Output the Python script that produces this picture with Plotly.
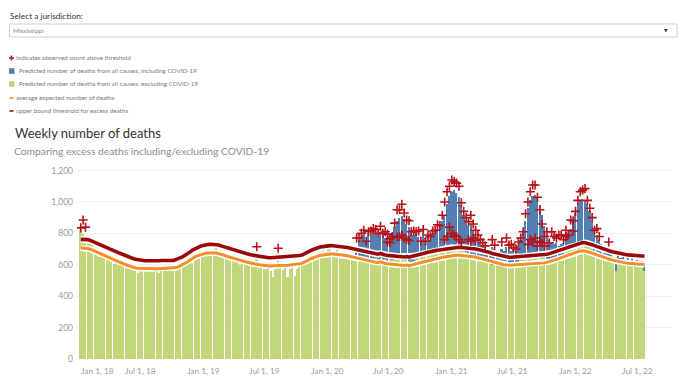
import pandas as pd
import plotly.graph_objects as go

# ---------------- data ----------------
start_week = "2018-01-06"          # first week-ending date
covid_start_index = 115            # first week of the "including COVID-19" series

upper_threshold = [
    762, 762, 761, 760, 755, 748, 740, 733, 727, 720,
    715, 710, 703, 697, 690, 683, 676, 670, 663, 657,
    650, 645, 640, 635, 632, 629, 627, 626, 626, 625,
    626, 626, 625, 626, 627, 626, 627, 628, 627, 628,
    632, 638, 645, 652, 660, 670, 682, 694, 703, 710,
    716, 721, 725, 728, 730, 731, 731, 729, 726, 720,
    715, 710, 705, 700, 695, 690, 686, 682, 678, 673,
    669, 665, 662, 659, 656, 653, 651, 649, 647, 645,
    645, 646, 646, 648, 648, 649, 650, 650, 651, 652,
    654, 656, 659, 662, 668, 676, 685, 693, 700, 705,
    710, 714, 717, 720, 722, 722, 721, 720, 718, 716,
    715, 713, 710, 707, 704, 701, 698, 695, 692, 690,
    684, 680, 676, 672, 670, 667, 672, 665, 662, 660,
    658, 660, 656, 653, 652, 651, 650, 652, 648, 652,
    655, 660, 664, 668, 672, 676, 681, 685, 688, 690,
    692, 694, 697, 700, 703, 706, 708, 710, 711, 711,
    710, 709, 708, 706, 705, 703, 700, 697, 694, 690,
    686, 682, 678, 672, 668, 664, 660, 656, 652, 649,
    648, 648, 649, 650, 651, 652, 652, 653, 654, 655,
    656, 657, 658, 660, 662, 664, 667, 671, 676, 681,
    685, 690, 695, 701, 707, 713, 720, 726, 731, 736,
    740, 741, 740, 737, 733, 728, 722, 716, 710, 703,
    697, 693, 689, 685, 681, 677, 673, 670, 667, 665,
    663, 661, 660, 659, 658, 657, 656, 655,
]

average_expected = [
    706, 706, 705, 704, 699, 692, 685, 678, 672, 666,
    661, 655, 648, 641, 634, 627, 620, 613, 606, 600,
    594, 589, 584, 580, 578, 577, 576, 575, 575, 574,
    575, 575, 574, 575, 576, 575, 576, 577, 576, 578,
    582, 587, 594, 601, 609, 619, 630, 641, 650, 657,
    663, 668, 671, 674, 676, 677, 677, 675, 672, 667,
    662, 656, 651, 646, 641, 636, 632, 628, 624, 620,
    616, 612, 609, 606, 603, 600, 598, 596, 594, 593,
    592, 593, 593, 594, 595, 596, 597, 597, 598, 599,
    601, 603, 606, 609, 615, 623, 632, 640, 647, 652,
    657, 661, 664, 667, 669, 669, 668, 667, 665, 663,
    662, 660, 657, 654, 651, 648, 644, 641, 637, 634,
    630, 627, 623, 619, 616, 613, 618, 611, 608, 606,
    604, 606, 602, 599, 598, 597, 596, 598, 594, 598,
    601, 606, 610, 614, 618, 622, 627, 631, 635, 638,
    641, 644, 647, 650, 653, 656, 658, 660, 661, 661,
    660, 659, 657, 655, 653, 651, 648, 645, 641, 637,
    633, 629, 625, 620, 615, 611, 607, 603, 600, 598,
    597, 597, 598, 599, 600, 600, 601, 601, 602, 603,
    604, 605, 606, 608, 610, 612, 615, 619, 624, 629,
    634, 639, 645, 651, 657, 663, 669, 675, 680, 684,
    687, 688, 687, 684, 680, 675, 669, 663, 657, 651,
    645, 640, 636, 632, 628, 624, 620, 617, 614, 612,
    610, 608, 607, 606, 605, 604, 603, 602,
]

deaths_excluding_covid = [
    820, 795, 780,
    760, 745, 730, 700, 690, 650, 665, 640, 655, 635,
    620, 605, 630, 600, 615, 595, 590, 605, 585, 575,
    560, 545, 575, 570, 565, 560, 570, 555, 560, 565, 550, 575, 560,
    570, 565, 580, 560, 575, 585, 580, 595, 600, 605,
    620, 610, 635, 645, 650, 665, 660, 680, 670, 690,
    700, 730, 690, 665, 660, 640, 655, 630, 645, 625,
    620, 600, 615, 605, 610, 590, 600, 585, 640, 580, 590, 575, 570, 585,
    560, 525, 570, 630, 580, 565, 585, 520, 570, 580, 530, 575, 590,
    600, 615, 610, 630, 640, 625, 660, 650, 670, 690, 680, 700,
    705, 690, 680, 700, 670, 665, 660, 650, 655, 640, 645,
    650, 645, 655, 640, 650, 635, 645, 630, 640, 625,
    630, 620, 635, 625, 640, 630, 645, 650, 655, 645, 640, 630, 625, 620,
    625, 635, 640, 645, 650, 660, 665, 670, 680, 690,
    700, 705, 710, 720, 715, 725, 730, 720, 715, 710, 700, 690, 680,
    670, 660, 650, 645, 640, 625, 620, 615, 610, 615, 600, 605, 600,
    595, 590, 600, 595, 605, 600, 610, 615, 620, 630,
    640, 650, 660, 665, 670, 665, 660, 650, 645, 640, 635, 630,
    630, 640, 645, 650, 660, 670, 680, 690, 700, 705, 715, 720,
    730, 735, 740, 730, 720, 705, 690, 680, 665, 655,
    640, 635, 620, 630, 610, 560, 620, 600, 610, 600,
    605, 590, 610, 585, 600, 590, 600, 560,
]

deaths_including_covid = [  # from week index 115 onwards
    660, 720, 760, 780, 790, 760, 800, 790, 810, 800, 770,
    810, 790, 770, 780, 760, 800, 840, 880, 900, 910,
    890, 860, 840, 800, 790, 800, 780, 760, 800, 770,
    780, 760, 800, 810, 830, 850, 880, 920, 990, 1040,
    1065, 1075, 1060, 1030, 980, 920, 880, 850, 860, 820,
    790, 760, 740, 720, 710, 700, 690, 710, 700, 690,
    680, 700, 690, 710, 700, 690, 700, 690, 720, 760,
    820, 880, 960, 1010, 1040, 1045, 1030, 980, 920, 850,
    790, 760, 740, 730, 740, 720, 730, 740, 780, 800,
    830, 880, 930, 990, 1010, 1020, 1015, 990, 940, 880,
    820, 790, 760, 730, 700, 690, 700, 660, 650, 620,
    660, 640, 650, 630, 640, 620, 640, 610, 630, 620,
    625, 600,
]

# observed counts above threshold (week index, count)
plus_week = [
    0, 1, 2, 74, 83,
    116, 117, 118, 119, 120, 121, 122, 123, 124, 125, 126, 127, 128, 129, 130,
    131, 132, 133, 134, 135, 136, 137, 138, 139, 140, 141, 142, 143, 144, 145,
    146, 147, 148, 149, 150, 151, 152, 153, 154, 155, 156, 157, 158, 159, 160,
    161, 162, 163, 164, 165, 166, 167, 168, 169, 170, 173, 174, 177, 179, 180,
    181, 182, 183, 184, 185, 186, 187, 188, 189, 190, 191, 192, 193, 194, 195,
    196, 197, 198, 199, 200, 201, 202, 203, 204, 205, 206, 207, 208, 209, 210,
    211, 212, 213, 214, 215, 216, 217, 218, 222,
    129, 130, 133, 134, 135, 136, 137, 138, 153, 154, 155, 156, 157, 158, 159,
    160, 163, 164, 165, 166, 188, 189, 190, 191, 192, 193, 194, 195, 204, 207,
]
plus_value = [
    835, 885, 840, 715, 705,
    770, 770, 800, 820, 750, 810, 815, 830, 825, 800, 845, 800, 810, 795, 765,
    780, 865, 950, 950, 985, 930, 885, 880, 810, 815, 810, 815, 750, 825, 750,
    790, 780, 815, 820, 855, 850, 915, 1000, 1065, 1100, 1140, 1130, 1120, 1100, 995,
    940, 900, 875, 915, 860, 820, 790, 760, 740, 720, 760, 725, 745, 770, 725,
    730, 710, 700, 745, 770, 810, 925, 1000, 1065, 1108, 1108, 1030, 950, 860, 780,
    810, 740, 810, 780, 770, 790, 790, 760, 820, 790, 885, 880, 940, 1010, 1065,
    1075, 1085, 1010, 960, 900, 820, 830, 780, 745,
    745, 740, 775, 780, 790, 770, 760, 755, 760, 780, 840, 800, 790, 780, 760,
    745, 760, 750, 770, 755, 730, 760, 745, 770, 720, 750, 740, 720, 780, 815,
]

x_tick_dates = ["2018-01-01", "2018-07-01", "2019-01-01", "2019-07-01", "2020-01-01",
                "2020-07-01", "2021-01-01", "2021-07-01", "2022-01-01", "2022-07-01"]
x_tick_labels = ["Jan 1, 18", "Jul 1, 18", "Jan 1, 19", "Jul 1, 19", "Jan 1, 20",
                 "Jul 1, 20", "Jan 1, 21", "Jul 1, 21", "Jan 1, 22", "Jul 1, 22"]
y_tick_values = [0, 200, 400, 600, 800, 1000, 1200]
y_tick_labels = ["0", "200", "400", "600", "800", "1,000", "1,200"]

legend_labels = [
    "indicates observed count above threshold",
    "Predicted number of deaths from all causes, including COVID-19",
    "Predicted number of deaths from all causes, excluding COVID-19",
    "average expected number of deaths",
    "upper bound threshold for excess deaths",
]

# ---------------- styling ----------------
FONT = "Lato, Roboto, sans-serif"
BLUE = "#5280b3"
GREEN = "#c0d77c"
ORANGE = "#f28e2b"
DARKRED = "#9b0a0a"
PLUS = "#b5121b"

W, H = 680, 381
ML, MR, MT, MB = 77, 8, 163, 22
PW, PH = W - ML - MR, H - MT - MB


def px(x):
    return (x - ML) / PW


def py(y):
    return (H - MB - y) / PH


weeks = pd.date_range(start_week, periods=len(deaths_excluding_covid), freq="7D")
covid_weeks = weeks[covid_start_index:covid_start_index + len(deaths_including_covid)]
plus_dates = [weeks[i] for i in plus_week]
bar_width = 4.8 * 24 * 3600 * 1000

fig = go.Figure()
fig.add_trace(go.Bar(x=covid_weeks, y=deaths_including_covid, marker_color=BLUE,
                     marker_line_width=0, width=bar_width, hoverinfo="skip"))
fig.add_trace(go.Bar(x=weeks, y=deaths_excluding_covid, marker_color=GREEN,
                     marker_line_width=0, width=bar_width, hoverinfo="skip"))
for series, color, w in [(average_expected, ORANGE, 3.0), (upper_threshold, DARKRED, 3.6)]:
    fig.add_trace(go.Scatter(x=weeks, y=series, mode="lines",
                             line=dict(color="white", width=w + 3), hoverinfo="skip"))
    fig.add_trace(go.Scatter(x=weeks, y=series, mode="lines",
                             line=dict(color=color, width=w), hoverinfo="skip"))
fig.add_trace(go.Scatter(x=plus_dates, y=plus_value, mode="markers",
                         marker=dict(symbol="cross-thin", size=6.5,
                                     line=dict(color=PLUS, width=1.6)),
                         hoverinfo="skip"))

annotations = []
shapes = []

# x tick labels
for i, (d, t) in enumerate(zip(x_tick_dates, x_tick_labels)):
    annotations.append(dict(x=d, y=py(371), xref="x", yref="paper", text=t,
                            showarrow=False, xanchor="left" if i == 0 else "center",
                            yanchor="middle", font=dict(family=FONT, size=8.3, color="#9a9a9a")))

# header
annotations.append(dict(x=px(8), y=py(16), xref="paper", yref="paper",
                        text="Select a jurisdiction:", showarrow=False, xanchor="left",
                        yanchor="middle", font=dict(family=FONT, size=8.3, color="#333333")))
shapes.append(dict(type="rect", xref="paper", yref="paper", x0=px(9.5), x1=px(677),
                   y0=py(24), y1=py(37), line=dict(color="#cfcfcf", width=1),
                   fillcolor="white"))
annotations.append(dict(x=px(11), y=py(30.5), xref="paper", yref="paper",
                        text="Mississippi", showarrow=False, xanchor="left",
                        yanchor="middle", font=dict(family=FONT, size=6.5, color="#8a8a8a")))
annotations.append(dict(x=px(666), y=py(30.5), xref="paper", yref="paper",
                        text="▼", showarrow=False, xanchor="center",
                        yanchor="middle", font=dict(family="DejaVu Sans", size=4.5, color="#333333")))

# legend
rows_y = [58, 71, 84, 98, 111]
text_x = [14, 17, 17, 14, 14]
for yv, tx, lab in zip(rows_y, text_x, legend_labels):
    annotations.append(dict(x=px(tx), y=py(yv), xref="paper", yref="paper", text=lab,
                            showarrow=False, xanchor="left", yanchor="middle",
                            font=dict(family=FONT, size=6.3, color="#7a7a7a")))
# plus symbol
shapes.append(dict(type="line", xref="paper", yref="paper", x0=px(9), x1=px(14),
                   y0=py(58), y1=py(58), line=dict(color=PLUS, width=1.5)))
shapes.append(dict(type="line", xref="paper", yref="paper", x0=px(11.5), x1=px(11.5),
                   y0=py(55.5), y1=py(60.5), line=dict(color=PLUS, width=1.5)))
# squares
for yv, col in [(71, BLUE), (84, GREEN)]:
    shapes.append(dict(type="rect", xref="paper", yref="paper", x0=px(9), x1=px(14.5),
                       y0=py(yv - 2.8), y1=py(yv + 2.8), line=dict(width=0), fillcolor=col))
# dashes
for yv, col in [(98, ORANGE), (111, DARKRED)]:
    shapes.append(dict(type="line", xref="paper", yref="paper", x0=px(9.5), x1=px(13.5),
                       y0=py(yv), y1=py(yv), line=dict(color=col, width=1.6)))

# titles
annotations.append(dict(x=px(13), y=py(133), xref="paper", yref="paper",
                        text="Weekly number of deaths", showarrow=False, xanchor="left",
                        yanchor="middle", font=dict(family=FONT, size=13, color="#333333")))
annotations.append(dict(x=px(12), y=py(151), xref="paper", yref="paper",
                        text="Comparing excess deaths including/excluding COVID-19",
                        showarrow=False, xanchor="left", yanchor="middle",
                        font=dict(family=FONT, size=10.3, color="#8c8c8c")))

fig.update_layout(
    width=W, height=H,
    margin=dict(l=ML, r=MR, t=MT, b=MB, pad=0),
    paper_bgcolor="white", plot_bgcolor="white",
    barmode="overlay", bargap=0, showlegend=False,
    annotations=annotations, shapes=shapes,
    xaxis=dict(type="date", range=["2017-12-26", "2022-10-12"], showgrid=False,
               showticklabels=False, zeroline=False, showline=False, ticks=""),
    yaxis=dict(range=[0, 1248], tickvals=y_tick_values, ticktext=y_tick_labels,
               showgrid=True, gridcolor="#efefef", gridwidth=1, zeroline=False,
               showline=False, ticks="", ticklabelstandoff=3,
               tickfont=dict(family=FONT, size=8.5, color="#9a9a9a")),
)

fig.write_html("out.html", config={"displayModeBar": False},
               post_script="document.body.style.margin='0px';document.body.style.overflow='hidden';")
